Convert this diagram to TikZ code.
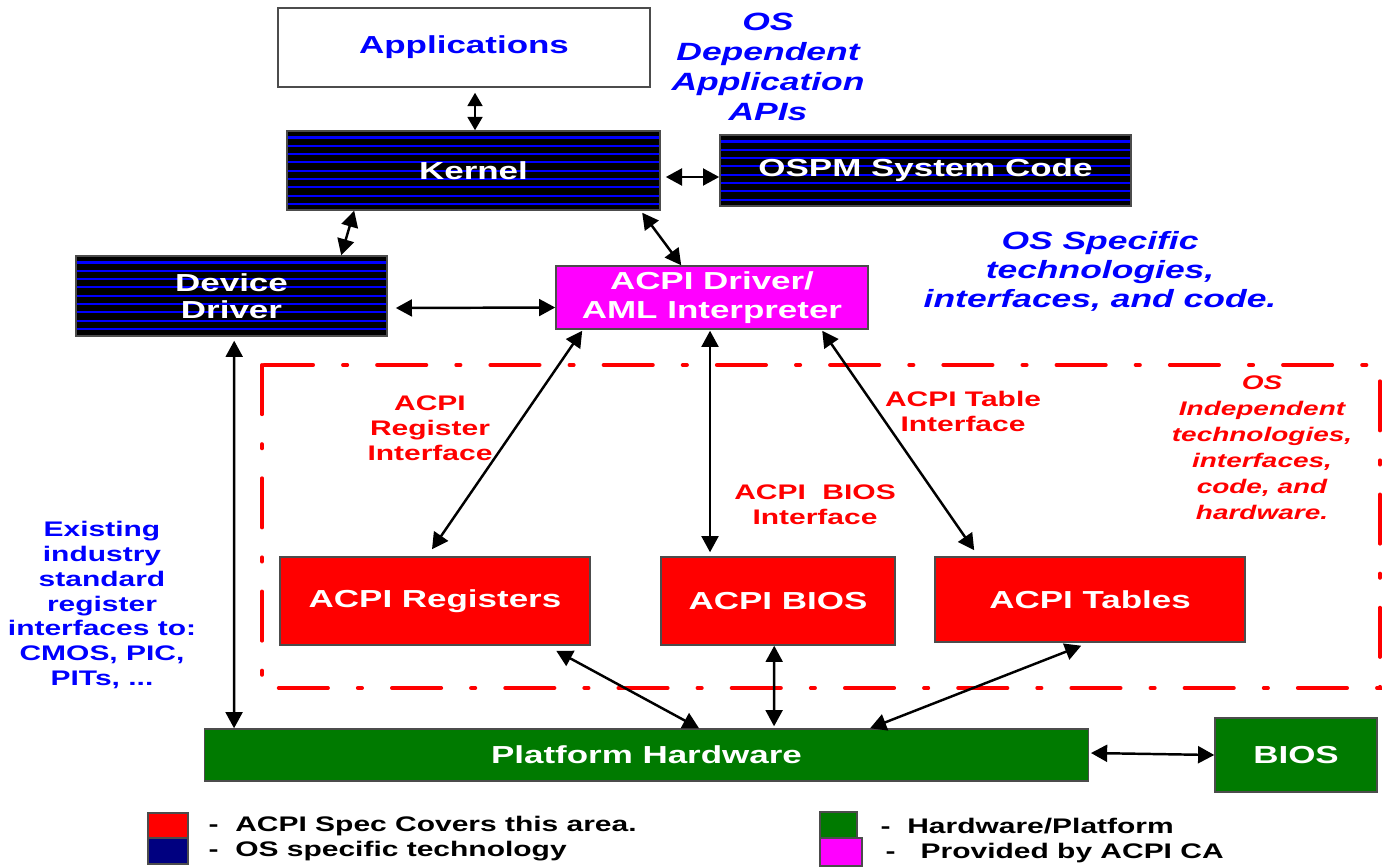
\documentclass[tikz,border=0pt]{standalone}
\usepackage{fontspec}
\setmainfont{Liberation Sans}[FakeStretch=1.42]
\usepackage{tikz}
\usetikzlibrary{arrows.meta,calc}
\definecolor{acpired}{RGB}{255,0,0}
\definecolor{hwgreen}{RGB}{0,122,0}
\definecolor{camag}{RGB}{255,0,255}
\definecolor{osnavy}{RGB}{0,0,128}
\definecolor{osblue}{RGB}{0,0,255}
\tikzstyle{box}=[inner sep=0pt, draw=black!70, align=center, text=white, font=\fontsize{7}{7.7}\selectfont\bfseries]
\tikzstyle{os}=[box, fill=black, path picture={\foreach \k in {0,...,11} \draw[osblue, line width=0.6pt] ([yshift=-1.85pt-\k*2.36pt]path picture bounding box.north west) -- ([yshift=-1.85pt-\k*2.36pt]path picture bounding box.north east);}]
\tikzstyle{spec}=[box, fill=acpired]
\tikzstyle{hw}=[box, fill=hwgreen]
\tikzstyle{ca}=[box, fill=camag, font=\fontsize{7}{8.25}\selectfont\bfseries]
\tikzstyle{link}=[<->, >={Triangle[length=4.6pt,width=4.8pt]}, line width=0.7pt]
\tikzstyle{bluenote}=[align=center, inner sep=0pt, text=osblue, font=\fontsize{7.1}{8.5}\selectfont\bfseries\itshape]
\tikzstyle{rednote}=[align=center, inner sep=0pt, text=acpired, font=\fontsize{6}{7.1}\selectfont\bfseries]
\tikzstyle{swatch}=[draw=black!70, thin, inner sep=0pt]
\tikzstyle{keytxt}=[anchor=west, inner sep=0pt, font=\fontsize{6}{7}\selectfont\bfseries]

\begin{document}
\begin{tikzpicture}[x=0.01cm,y=-0.01cm]
				\useasboundingbox (0,0) rectangle (1392,867);
				
				%The OS side
				\draw (464,47.5) node[box, fill=white, text=osblue, minimum width=3.72cm, minimum height=0.79cm] (apps) {Applications};
				\draw (473.5,170.5) node[os, minimum width=3.73cm, minimum height=0.79cm] (kernel) {Kernel};
				\draw (925.5,170.5) node[os, minimum width=4.11cm, minimum height=0.71cm] (ospm) {OSPM System Code};
				\draw (231.5,296) node[os, minimum width=3.11cm, minimum height=0.8cm] (dd) {Device\\Driver};
				\draw (712,297.5) node[ca, minimum width=3.12cm, minimum height=0.63cm] (acpidrv) {ACPI Driver/\\AML Interpreter};
				
				%The OS independent area
				\draw[acpired, line width=1.1pt, line cap=round, dash pattern=on 14pt off 8.5pt on 1.2pt off 8.5pt] (262,365) rectangle (1380,688);
				\draw (435,601) node[spec, minimum width=3.1cm, minimum height=0.88cm] (regs) {ACPI Registers};
				\draw (778,601) node[spec, minimum width=2.34cm, minimum height=0.88cm] (abios) {ACPI BIOS};
				\draw (1090,599.5) node[spec, minimum width=3.1cm, minimum height=0.85cm] (tables) {ACPI Tables};
				
				%The hardware
				\draw (646.5,755) node[hw, minimum width=8.83cm, minimum height=0.52cm] (platform) {Platform Hardware};
				\draw (1296,755) node[hw, minimum width=1.62cm, minimum height=0.74cm] (biosbox) {BIOS};
				
				%The notes
				\draw (768,67) node[bluenote] (apinote) {OS\\Dependent\\Application\\APIs};
				\draw (1100,271) node[bluenote, font=\fontsize{7.1}{8.25}\selectfont\bfseries\itshape] (osnote) {OS Specific\\technologies,\\interfaces, and code.};
				\draw (1262,448) node[rednote, font=\fontsize{5.6}{7.4}\selectfont\bfseries\itshape] (indnote) {OS\\Independent\\technologies,\\interfaces,\\code, and\\hardware.};
				\draw (430,428) node[rednote] (regnote) {ACPI\\Register\\Interface};
				\draw (963,411) node[rednote] (tabnote) {ACPI Table\\Interface};
				\draw (815,505) node[rednote] (biosnote) {ACPI~~BIOS\\Interface};
				\draw (102,605) node[rednote, text=osblue] (stdnote) {Existing\\industry\\standard\\register\\interfaces to:\\CMOS, PIC,\\PITs, ...};
				
				%The connections
				\draw[link, >={Triangle[length=3.8pt,width=4.2pt]}] ($(apps.south)+(11,5)$) -- ($(kernel.north)+(1.5,0)$);
				\draw[link] ($(kernel.east)+(5,6.5)$) -- ($(ospm.west)+(0,6.5)$);
				\draw[link] ($(kernel.south west)+(68,0)$) -- ($(dd.north west)+(266,0)$);
				\draw[link] ($(kernel.south west)+(356,2)$) -- ($(acpidrv.north west)+(126,0)$);
				\draw[link] ($(dd.east)+(8,12)$) -- ($(acpidrv.west)+(0,10)$);
				\draw[link] ($(dd.south west)+(159,4)$) -- ($(platform.north west)+(30,0)$);
				\draw[link] ($(acpidrv.south west)+(27,1)$) -- ($(regs.north)+(-3,-7)$);
				\draw[link] ($(acpidrv.south)+(-2,1)$) -- ($(abios.north)+(-68,-4)$);
				\draw[link] ($(acpidrv.south west)+(267,1)$) -- ($(tables.north west)+(40,-6)$);
				\draw[link] ($(regs.south west)+(277,5)$) -- ($(platform.north west)+(495,0)$);
				\draw[link] ($(abios.south west)+(114,0)$) -- ($(platform.north west)+(570,-2)$);
				\draw[link] ($(tables.south west)+(147,3)$) -- ($(platform.north west)+(666,0)$);
				\draw[link] ($(platform.east)+(2,-2)$) -- (biosbox.west);
				
				%The legend
				\draw (168,825.5) node[swatch, fill=acpired, minimum width=0.4cm, minimum height=0.25cm] (kspec) {};
				\draw (168,851) node[swatch, fill=osnavy, minimum width=0.4cm, minimum height=0.26cm] (kos) {};
				\draw (838.5,826) node[swatch, fill=hwgreen, minimum width=0.37cm, minimum height=0.28cm] (khw) {};
				\draw (841,852) node[swatch, fill=camag, minimum width=0.42cm, minimum height=0.28cm] (kca) {};
				\draw (208,826) node[keytxt] (tspec) {-~~ACPI Spec Covers this area.};
				\draw (208,851) node[keytxt] (tos) {-~~OS specific technology};
				\draw (880,826) node[keytxt] (thw) {-~~Hardware/Platform};
				\draw (885,853) node[keytxt] (tca) {-~~~Provided by ACPI CA};
\end{tikzpicture}
\end{document}
